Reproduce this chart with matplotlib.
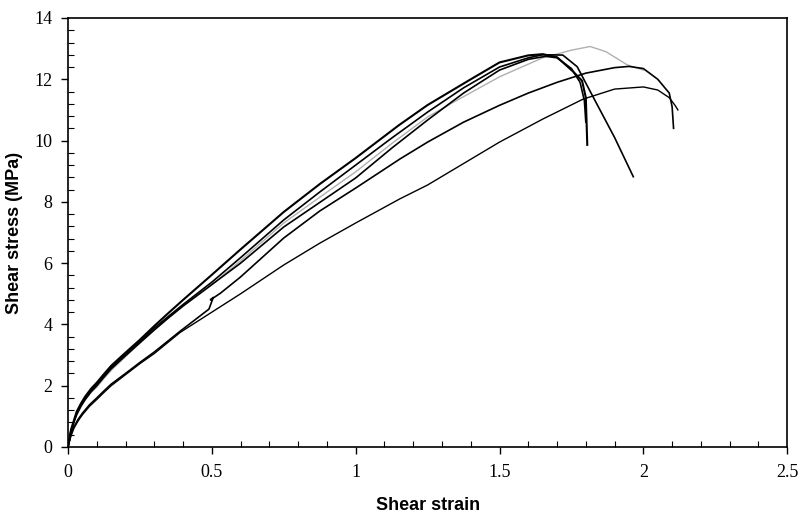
import matplotlib
matplotlib.use("Agg")
import matplotlib.pyplot as plt
from matplotlib.ticker import MultipleLocator

# shear stress-strain curves
strain_a = [0, 0.01, 0.02, 0.03, 0.045, 0.06, 0.08, 0.1, 0.125, 0.15, 0.2, 0.25, 0.3, 0.35, 0.4, 0.5, 0.6, 0.75,
            0.875, 1.0, 1.15, 1.25, 1.4, 1.5, 1.6, 1.65, 1.7, 1.756, 1.787, 1.80, 1.805]
stress_a = [0, 0.55, 0.85, 1.15, 1.42, 1.65, 1.9, 2.1, 2.38, 2.65, 3.08, 3.5, 3.95, 4.38, 4.8, 5.62, 6.45, 7.67,
            8.58, 9.43, 10.5, 11.16, 12.0, 12.55, 12.78, 12.82, 12.72, 12.25, 11.95, 11.4, 9.86]

strain_d = [0, 0.01, 0.02, 0.03, 0.045, 0.06, 0.08, 0.1, 0.125, 0.15, 0.2, 0.25, 0.3, 0.35, 0.4, 0.5, 0.6, 0.75,
            0.875, 1.0, 1.125, 1.25, 1.375, 1.5, 1.6, 1.65, 1.72, 1.77, 1.825, 1.9, 1.965]
stress_d = [0, 0.5, 0.82, 1.1, 1.38, 1.6, 1.85, 2.05, 2.33, 2.6, 3.03, 3.45, 3.88, 4.27, 4.65, 5.38, 6.18, 7.41,
            8.32, 9.2, 10.08, 10.93, 11.72, 12.4, 12.7, 12.8, 12.79, 12.41, 11.43, 10.1, 8.82]

strain_e = [0, 0.01, 0.02, 0.03, 0.045, 0.06, 0.08, 0.1, 0.125, 0.15, 0.2, 0.25, 0.3, 0.35, 0.4, 0.5, 0.6, 0.75,
            0.875, 1.0, 1.125, 1.25, 1.375, 1.5, 1.6, 1.66, 1.70, 1.75, 1.78, 1.795, 1.80]
stress_e = [0, 0.5, 0.8, 1.05, 1.33, 1.55, 1.8, 2.0, 2.28, 2.55, 2.98, 3.4, 3.82, 4.22, 4.6, 5.3, 6.0, 7.18,
            7.98, 8.78, 9.75, 10.67, 11.55, 12.3, 12.65, 12.75, 12.7, 12.35, 11.9, 11.3, 10.6]

strain_g = [0, 0.01, 0.02, 0.03, 0.045, 0.06, 0.08, 0.1, 0.125, 0.15, 0.2, 0.25, 0.3, 0.35, 0.4, 0.5, 0.6, 0.75,
            0.875, 1.0, 1.125, 1.25, 1.33, 1.5, 1.65, 1.75, 1.815, 1.87, 1.944, 2.0]
stress_g = [0, 0.5, 0.8, 1.05, 1.33, 1.55, 1.78, 1.95, 2.24, 2.5, 2.95, 3.4, 3.82, 4.22, 4.6, 5.3, 6.08, 7.31,
            8.15, 8.98, 9.9, 10.77, 11.2, 12.08, 12.7, 12.95, 13.07, 12.9, 12.47, 12.3]

strain_b = [0, 0.01, 0.02, 0.035, 0.05, 0.075, 0.1, 0.125, 0.15, 0.2, 0.25, 0.3, 0.39, 0.49, 0.505, 0.495, 0.53,
            0.6, 0.75, 0.875, 1.0, 1.154, 1.25, 1.375, 1.5, 1.6, 1.7, 1.8, 1.9, 1.95, 2.0, 2.05, 2.09, 2.10, 2.105]
stress_b = [0, 0.4, 0.65, 0.9, 1.1, 1.38, 1.6, 1.83, 2.05, 2.4, 2.76, 3.1, 3.78, 4.5, 4.88, 4.8, 5.02,
            5.55, 6.82, 7.7, 8.45, 9.4, 9.95, 10.6, 11.15, 11.55, 11.9, 12.2, 12.38, 12.42, 12.35, 12.0, 11.55, 11.1, 10.4]

strain_c = [0, 0.01, 0.02, 0.035, 0.05, 0.075, 0.1, 0.125, 0.15, 0.2, 0.25, 0.3, 0.39, 0.5, 0.6, 0.75, 0.875,
            1.0, 1.154, 1.25, 1.375, 1.5, 1.65, 1.79, 1.9, 2.0, 2.05, 2.09, 2.11, 2.12]
stress_c = [0, 0.35, 0.6, 0.85, 1.05, 1.33, 1.55, 1.78, 2.0, 2.36, 2.72, 3.05, 3.74, 4.4, 5.0, 5.94, 6.65,
            7.31, 8.1, 8.55, 9.25, 9.95, 10.7, 11.35, 11.68, 11.75, 11.65, 11.4, 11.15, 11.0]

dark = [(strain_a, stress_a, 1.5), (strain_d, stress_d, 1.2), (strain_e, stress_e, 1.2),
        (strain_b, stress_b, 1.2), (strain_c, stress_c, 1.0)]

fig = plt.figure(figsize=(8, 5.2), dpi=100)
ax = fig.add_axes([0.085, 0.1404, 0.899, 0.825])

ax.plot(strain_g, stress_g, color="#b0b0b0", lw=1.0)
for sx, sy, w in dark:
    ax.plot(sx, sy, color="black", lw=w)

ax.set_xlim(0, 2.5)
ax.set_ylim(0, 14)
ax.set_xticks([0, 0.5, 1, 1.5, 2, 2.5])
ax.set_xticklabels(["0", "0.5", "1", "1.5", "2", "2.5"], family="Liberation Serif")
ax.set_yticks([0, 2, 4, 6, 8, 10, 12, 14])
ax.set_yticklabels(["0", "2", "4", "6", "8", "10", "12", "14"], family="Liberation Serif")
ax.xaxis.set_minor_locator(MultipleLocator(0.1))
ax.yaxis.set_minor_locator(MultipleLocator(0.4))
ax.tick_params(which="major", direction="out", length=5, width=1, labelsize=13)
ax.tick_params(which="minor", direction="in", length=4, width=0.8)
ax.tick_params(axis="x", which="major", pad=7)
ax.tick_params(axis="y", which="major", pad=6)

for s in ax.spines.values():
    s.set_linewidth(1.2)

ax.set_xlabel("Shear strain", family="Liberation Sans", fontweight="bold", fontsize=13, labelpad=12)
ax.set_ylabel("Shear stress (MPa)", family="Liberation Sans", fontweight="bold", fontsize=13, labelpad=8)

fig.savefig("out.png", dpi=100)
